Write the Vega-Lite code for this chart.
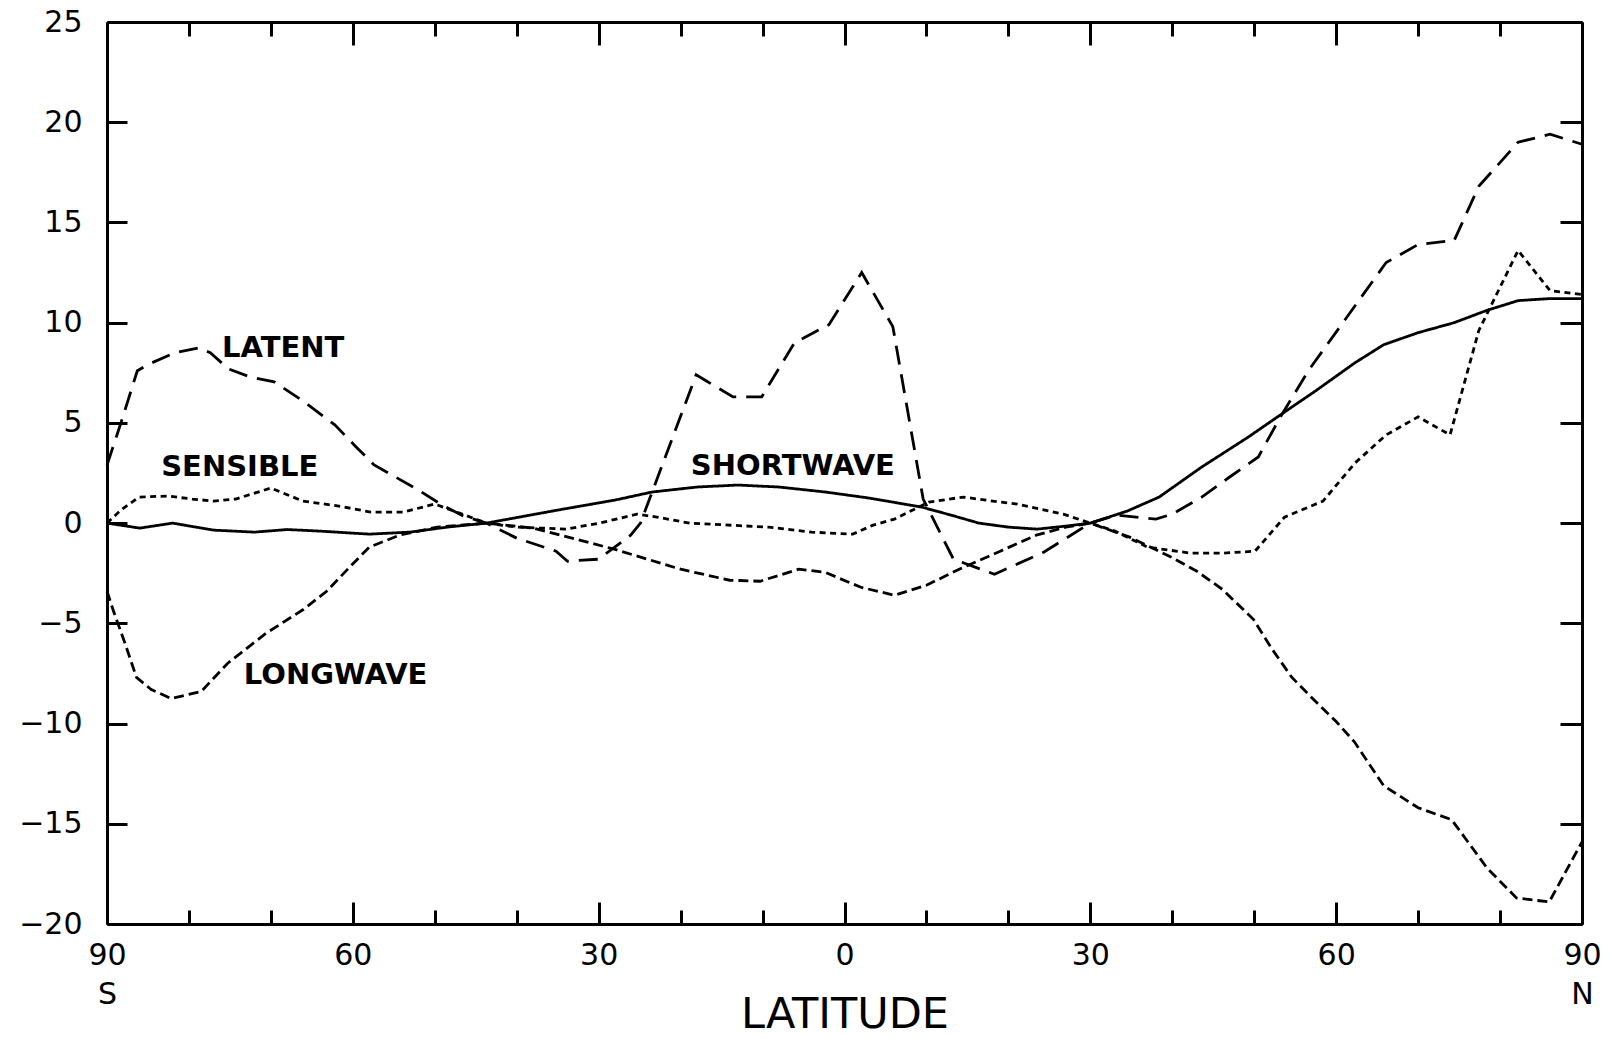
{
  "$schema": "https://vega.github.io/schema/vega-lite/v6.json",
  "autosize": {"type": "none"},
  "padding": {"left": 107, "top": 22, "right": 28, "bottom": 114},
  "width": 1475,
  "height": 902,
  "background": "white",
  "config": {
    "view": {"stroke": null},
    "font": "DejaVu Sans",
    "axis": {
      "domainColor": "black", "domainWidth": 3, "tickColor": "black", "tickWidth": 3,
      "labelColor": "black", "labelFont": "DejaVu Sans", "labelFontSize": 30,
      "labelFlush": false, "labelOverlap": false, "grid": false, "titleColor": "black"
    }
  },
  "layer": [
    {
      "data": {"values": [
        {"s":"SHORTWAVE","lat":-90,"v":0},{"s":"SHORTWAVE","lat":-86,"v":-0.25},{"s":"SHORTWAVE","lat":-82,"v":0},{"s":"SHORTWAVE","lat":-77,"v":-0.35},{"s":"SHORTWAVE","lat":-72,"v":-0.45},{"s":"SHORTWAVE","lat":-68,"v":-0.32},{"s":"SHORTWAVE","lat":-64,"v":-0.4},{"s":"SHORTWAVE","lat":-58,"v":-0.55},{"s":"SHORTWAVE","lat":-53,"v":-0.45},{"s":"SHORTWAVE","lat":-48.5,"v":-0.2},{"s":"SHORTWAVE","lat":-43.7,"v":0},{"s":"SHORTWAVE","lat":-35,"v":0.65},{"s":"SHORTWAVE","lat":-28,"v":1.15},{"s":"SHORTWAVE","lat":-23.5,"v":1.55},{"s":"SHORTWAVE","lat":-18,"v":1.8},{"s":"SHORTWAVE","lat":-13,"v":1.9},{"s":"SHORTWAVE","lat":-8,"v":1.8},{"s":"SHORTWAVE","lat":-2.3,"v":1.55},{"s":"SHORTWAVE","lat":3,"v":1.25},{"s":"SHORTWAVE","lat":9.4,"v":0.8},{"s":"SHORTWAVE","lat":13,"v":0.4},{"s":"SHORTWAVE","lat":16.4,"v":0},{"s":"SHORTWAVE","lat":20,"v":-0.2},{"s":"SHORTWAVE","lat":23.5,"v":-0.3},{"s":"SHORTWAVE","lat":27,"v":-0.15},{"s":"SHORTWAVE","lat":30,"v":0},{"s":"SHORTWAVE","lat":34.5,"v":0.6},{"s":"SHORTWAVE","lat":38.4,"v":1.3},{"s":"SHORTWAVE","lat":43.6,"v":2.8},{"s":"SHORTWAVE","lat":49.3,"v":4.3},{"s":"SHORTWAVE","lat":53.2,"v":5.4},{"s":"SHORTWAVE","lat":57.5,"v":6.6},{"s":"SHORTWAVE","lat":62.3,"v":8.0},{"s":"SHORTWAVE","lat":65.8,"v":8.9},{"s":"SHORTWAVE","lat":70,"v":9.5},{"s":"SHORTWAVE","lat":74.4,"v":10.0},{"s":"SHORTWAVE","lat":78.3,"v":10.6},{"s":"SHORTWAVE","lat":82.2,"v":11.1},{"s":"SHORTWAVE","lat":86,"v":11.2},{"s":"SHORTWAVE","lat":90,"v":11.2},

        {"s":"LATENT","lat":-90,"v":2.9},{"s":"LATENT","lat":-88.3,"v":5.0},{"s":"LATENT","lat":-86.3,"v":7.6},{"s":"LATENT","lat":-84.8,"v":7.95},{"s":"LATENT","lat":-81.7,"v":8.5},{"s":"LATENT","lat":-78.7,"v":8.75},{"s":"LATENT","lat":-77.4,"v":8.5},{"s":"LATENT","lat":-75.2,"v":7.7},{"s":"LATENT","lat":-72.6,"v":7.3},{"s":"LATENT","lat":-69.6,"v":7.05},{"s":"LATENT","lat":-66.1,"v":6.1},{"s":"LATENT","lat":-62.2,"v":4.9},{"s":"LATENT","lat":-59.6,"v":3.8},{"s":"LATENT","lat":-57.4,"v":2.9},{"s":"LATENT","lat":-52.2,"v":1.7},{"s":"LATENT","lat":-49.1,"v":0.9},{"s":"LATENT","lat":-46.5,"v":0.35},{"s":"LATENT","lat":-43.7,"v":0},{"s":"LATENT","lat":-40,"v":-0.75},{"s":"LATENT","lat":-35.2,"v":-1.4},{"s":"LATENT","lat":-33.8,"v":-1.9},{"s":"LATENT","lat":-30,"v":-1.8},{"s":"LATENT","lat":-26.1,"v":-0.6},{"s":"LATENT","lat":-24.9,"v":0},{"s":"LATENT","lat":-18.1,"v":7.4},{"s":"LATENT","lat":-16.9,"v":7.1},{"s":"LATENT","lat":-13.6,"v":6.3},{"s":"LATENT","lat":-10.1,"v":6.3},{"s":"LATENT","lat":-6.1,"v":9.0},{"s":"LATENT","lat":-1.9,"v":9.9},{"s":"LATENT","lat":2.1,"v":12.5},{"s":"LATENT","lat":5.9,"v":9.8},{"s":"LATENT","lat":9.6,"v":1.2},{"s":"LATENT","lat":13.3,"v":-1.8},{"s":"LATENT","lat":18.3,"v":-2.55},{"s":"LATENT","lat":24.3,"v":-1.45},{"s":"LATENT","lat":30,"v":0},{"s":"LATENT","lat":33.2,"v":0.4},{"s":"LATENT","lat":38,"v":0.2},{"s":"LATENT","lat":40,"v":0.45},{"s":"LATENT","lat":43.6,"v":1.3},{"s":"LATENT","lat":47,"v":2.3},{"s":"LATENT","lat":50.5,"v":3.3},{"s":"LATENT","lat":53.2,"v":5.3},{"s":"LATENT","lat":56.6,"v":7.6},{"s":"LATENT","lat":61,"v":10.1},{"s":"LATENT","lat":66.1,"v":13.0},{"s":"LATENT","lat":70,"v":13.9},{"s":"LATENT","lat":74.4,"v":14.1},{"s":"LATENT","lat":77.4,"v":16.8},{"s":"LATENT","lat":82.2,"v":19.0},{"s":"LATENT","lat":86.1,"v":19.4},{"s":"LATENT","lat":90,"v":18.9},

        {"s":"LONGWAVE","lat":-90,"v":-3.4},{"s":"LONGWAVE","lat":-89.2,"v":-4.4},{"s":"LONGWAVE","lat":-87.8,"v":-6.0},{"s":"LONGWAVE","lat":-86.4,"v":-7.7},{"s":"LONGWAVE","lat":-84.6,"v":-8.3},{"s":"LONGWAVE","lat":-82.2,"v":-8.75},{"s":"LONGWAVE","lat":-78.5,"v":-8.4},{"s":"LONGWAVE","lat":-75.3,"v":-7.0},{"s":"LONGWAVE","lat":-70.6,"v":-5.5},{"s":"LONGWAVE","lat":-66,"v":-4.3},{"s":"LONGWAVE","lat":-63.2,"v":-3.4},{"s":"LONGWAVE","lat":-60.4,"v":-2.2},{"s":"LONGWAVE","lat":-58,"v":-1.2},{"s":"LONGWAVE","lat":-54.3,"v":-0.6},{"s":"LONGWAVE","lat":-49.7,"v":-0.2},{"s":"LONGWAVE","lat":-43.7,"v":0},{"s":"LONGWAVE","lat":-38,"v":-0.25},{"s":"LONGWAVE","lat":-28.1,"v":-1.3},{"s":"LONGWAVE","lat":-20,"v":-2.3},{"s":"LONGWAVE","lat":-14,"v":-2.85},{"s":"LONGWAVE","lat":-10.3,"v":-2.9},{"s":"LONGWAVE","lat":-5.6,"v":-2.3},{"s":"LONGWAVE","lat":-2.4,"v":-2.45},{"s":"LONGWAVE","lat":2,"v":-3.2},{"s":"LONGWAVE","lat":6.1,"v":-3.6},{"s":"LONGWAVE","lat":10,"v":-3.1},{"s":"LONGWAVE","lat":14,"v":-2.3},{"s":"LONGWAVE","lat":19,"v":-1.4},{"s":"LONGWAVE","lat":23.4,"v":-0.6},{"s":"LONGWAVE","lat":27,"v":-0.2},{"s":"LONGWAVE","lat":30,"v":0},{"s":"LONGWAVE","lat":34.8,"v":-0.7},{"s":"LONGWAVE","lat":39.9,"v":-1.7},{"s":"LONGWAVE","lat":43,"v":-2.4},{"s":"LONGWAVE","lat":46.1,"v":-3.3},{"s":"LONGWAVE","lat":49.9,"v":-4.8},{"s":"LONGWAVE","lat":52.2,"v":-6.3},{"s":"LONGWAVE","lat":54.6,"v":-7.7},{"s":"LONGWAVE","lat":57,"v":-8.7},{"s":"LONGWAVE","lat":60,"v":-9.9},{"s":"LONGWAVE","lat":62.2,"v":-10.9},{"s":"LONGWAVE","lat":65.8,"v":-13.1},{"s":"LONGWAVE","lat":70,"v":-14.2},{"s":"LONGWAVE","lat":74.1,"v":-14.8},{"s":"LONGWAVE","lat":78.4,"v":-17.2},{"s":"LONGWAVE","lat":82,"v":-18.7},{"s":"LONGWAVE","lat":86,"v":-18.9},{"s":"LONGWAVE","lat":90,"v":-15.9},

        {"s":"SENSIBLE","lat":-90,"v":0},{"s":"SENSIBLE","lat":-88.3,"v":0.65},{"s":"SENSIBLE","lat":-86.1,"v":1.3},{"s":"SENSIBLE","lat":-82.6,"v":1.35},{"s":"SENSIBLE","lat":-79.6,"v":1.2},{"s":"SENSIBLE","lat":-77,"v":1.1},{"s":"SENSIBLE","lat":-74.3,"v":1.2},{"s":"SENSIBLE","lat":-70,"v":1.75},{"s":"SENSIBLE","lat":-66.1,"v":1.1},{"s":"SENSIBLE","lat":-61.7,"v":0.85},{"s":"SENSIBLE","lat":-57.8,"v":0.55},{"s":"SENSIBLE","lat":-53.9,"v":0.55},{"s":"SENSIBLE","lat":-50,"v":0.95},{"s":"SENSIBLE","lat":-47,"v":0.5},{"s":"SENSIBLE","lat":-43.7,"v":0},{"s":"SENSIBLE","lat":-40,"v":-0.2},{"s":"SENSIBLE","lat":-34,"v":-0.3},{"s":"SENSIBLE","lat":-29.9,"v":0},{"s":"SENSIBLE","lat":-25.3,"v":0.45},{"s":"SENSIBLE","lat":-22.9,"v":0.3},{"s":"SENSIBLE","lat":-18.9,"v":0},{"s":"SENSIBLE","lat":-9.3,"v":-0.2},{"s":"SENSIBLE","lat":-4,"v":-0.45},{"s":"SENSIBLE","lat":1,"v":-0.55},{"s":"SENSIBLE","lat":3.5,"v":-0.1},{"s":"SENSIBLE","lat":6.1,"v":0.2},{"s":"SENSIBLE","lat":10.3,"v":1.05},{"s":"SENSIBLE","lat":14.5,"v":1.3},{"s":"SENSIBLE","lat":19,"v":1.05},{"s":"SENSIBLE","lat":21.1,"v":0.95},{"s":"SENSIBLE","lat":26.7,"v":0.45},{"s":"SENSIBLE","lat":30,"v":0},{"s":"SENSIBLE","lat":33,"v":-0.4},{"s":"SENSIBLE","lat":37,"v":-1.2},{"s":"SENSIBLE","lat":42.3,"v":-1.5},{"s":"SENSIBLE","lat":46.1,"v":-1.5},{"s":"SENSIBLE","lat":50.1,"v":-1.4},{"s":"SENSIBLE","lat":53.7,"v":0.3},{"s":"SENSIBLE","lat":58.4,"v":1.1},{"s":"SENSIBLE","lat":62.3,"v":3.0},{"s":"SENSIBLE","lat":66.1,"v":4.4},{"s":"SENSIBLE","lat":70,"v":5.3},{"s":"SENSIBLE","lat":73.9,"v":4.4},{"s":"SENSIBLE","lat":77.4,"v":9.6},{"s":"SENSIBLE","lat":82.2,"v":13.6},{"s":"SENSIBLE","lat":86.1,"v":11.6},{"s":"SENSIBLE","lat":90,"v":11.4}
      ]},
      "mark": {"type": "line", "color": "black", "strokeWidth": 2.8, "strokeCap": "butt"},
      "encoding": {
        "x": {"field": "lat", "type": "quantitative", "scale": {"domain": [-90, 90], "nice": false, "zero": false},
          "axis": {
            "orient": "bottom",
            "values": [-90,-80,-70,-60,-50,-40,-30,-20,-10,0,10,20,30,40,50,60,70,80,90],
            "tickSize": {"condition": {"test": "datum.value % 30 === 0", "value": -22}, "value": -14},
            "labelExpr": "datum.value % 30 !== 0 ? '' : (datum.value === -90 ? ['90','S'] : (datum.value === 90 ? ['90','N'] : '' + abs(datum.value)))",
            "labelPadding": 38,
            "labelLineHeight": 39,
            "title": "LATITUDE",
            "titleFont": "DejaVu Sans",
            "titleFontSize": 43,
            "titleFontWeight": "normal",
            "titleBaseline": "alphabetic",
            "titleY": 103
          }},
        "y": {"field": "v", "type": "quantitative", "scale": {"domain": [-20, 25], "nice": false, "zero": false},
          "axis": {
            "orient": "left",
            "values": [-20,-15,-10,-5,0,5,10,15,20,25],
            "tickSize": -20,
            "labelPadding": 45,
            "title": null
          }},
        "strokeDash": {"field": "s", "type": "nominal",
          "scale": {"domain": ["SHORTWAVE","LATENT","LONGWAVE","SENSIBLE"], "range": [[1,0],[19,10],[10,5],[6,4.5]]},
          "legend": null},
        "detail": {"field": "s"}
      }
    },
    {
      "data": {"values": [
        {"t": "LATENT", "lat": -68.5, "v": 8.75},
        {"t": "SENSIBLE", "lat": -73.8, "v": 2.8},
        {"t": "SHORTWAVE", "lat": -6.3, "v": 2.87},
        {"t": "LONGWAVE", "lat": -62.1, "v": -7.6}
      ]},
      "mark": {"type": "text", "color": "black", "font": "DejaVu Sans", "fontSize": 29, "fontWeight": "bold", "align": "center", "baseline": "middle"},
      "encoding": {
        "x": {"field": "lat", "type": "quantitative", "scale": {"domain": [-90, 90], "nice": false, "zero": false},
          "axis": {
            "orient": "top",
            "values": [-90,-80,-70,-60,-50,-40,-30,-20,-10,0,10,20,30,40,50,60,70,80,90],
            "tickSize": {"condition": {"test": "datum.value % 30 === 0", "value": -23}, "value": -14},
            "labels": false,
            "title": null
          }},
        "y": {"field": "v", "type": "quantitative", "scale": {"domain": [-20, 25], "nice": false, "zero": false},
          "axis": {
            "orient": "right",
            "values": [-20,-15,-10,-5,0,5,10,15,20,25],
            "tickSize": -22,
            "labels": false,
            "title": null
          }},
        "text": {"field": "t"}
      }
    },
    {
      "mark": {"type": "rule", "color": "black", "strokeWidth": 2},
      "encoding": {"y": {"datum": 0, "axis": null}}
    }
  ],
  "resolve": {"axis": {"x": "independent", "y": "independent"}}
}
